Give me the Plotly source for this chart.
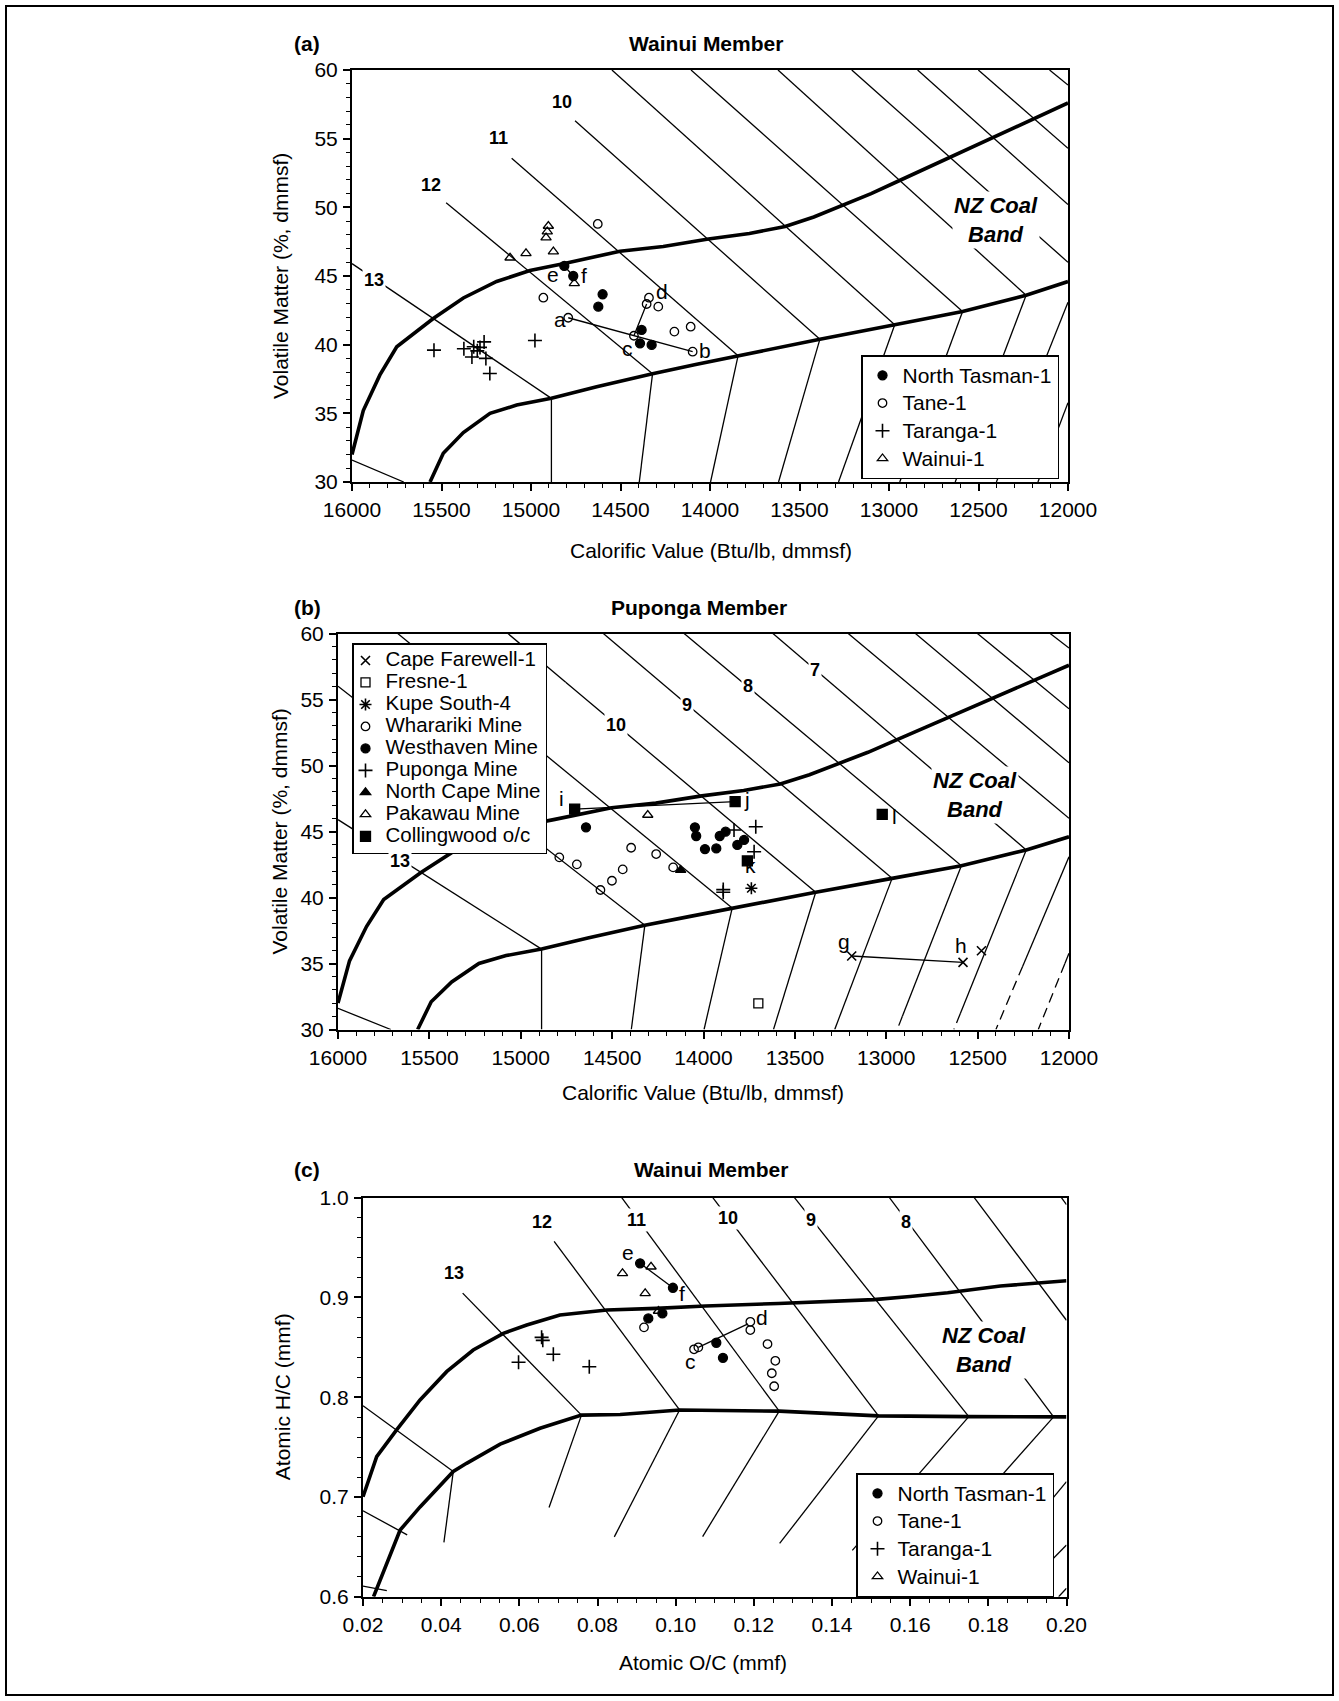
import plotly.graph_objects as go

W, H = 1339, 1701
FONT = "Liberation Sans, Arial, Helvetica, sans-serif"

# ---------------- panel (a): Wainui Member, calorific value vs volatile matter
a_tasman_cv = [14814, 14764, 14600, 14624, 14382, 14391, 14326]
a_tasman_vm = [45.73, 45.00, 43.67, 42.77, 41.07, 40.10, 39.98]
a_tane_cv = [14627, 14931, 14792, 14425, 14097, 14341, 14354, 14289, 14199, 14108]
a_tane_vm = [48.79, 43.42, 41.96, 40.65, 39.49, 43.42, 42.96, 42.77, 40.95, 41.31]
a_taranga_cv = [15542, 15375, 15320, 15300, 15330, 15285, 15262, 15252, 15230, 14978]
a_taranga_vm = [39.6, 39.7, 39.85, 39.55, 39.1, 39.8, 40.2, 39.0, 37.9, 40.3]
a_wainui_cv = [15117, 15028, 14903, 14909, 14916, 14875, 14758]
a_wainui_vm = [46.33, 46.65, 48.64, 48.23, 47.79, 46.77, 44.47]

# tie lines between paired analyses (a-b, c-d, e-f)
a_tie_cv0 = [14792, 14425, 14814]
a_tie_vm0 = [41.96, 40.65, 45.73]
a_tie_cv1 = [14097, 14354, 14764]
a_tie_vm1 = [39.49, 42.96, 45.00]
a_letters = ["a", "b", "c", "d", "e", "f"]
a_letter_cv = [14838, 14028, 14460, 14270, 14875, 14704]
a_letter_vm = [41.8, 39.54, 39.73, 43.86, 45.12, 45.07]
a_rank_text = ["10", "11", "12", "13"]
a_rank_cv = [14828, 15179, 15559, 15877]
a_rank_vm = [57.65, 55.05, 51.66, 44.71]

# ---------------- panel (b): Puponga Member
b_cape_cv = [13189, 12580, 12479]
b_cape_vm = [35.57, 35.09, 35.97]
b_fresne_cv = [13700]
b_fresne_vm = [31.98]
b_kupe_cv = [13738]
b_kupe_vm = [40.7]
b_wharariki_cv = [14789, 14693, 14564, 14501, 14442, 14396, 14259, 14166]
b_wharariki_vm = [43.04, 42.51, 40.57, 41.27, 42.13, 43.77, 43.29, 42.28]
b_westhaven_cv = [14643, 14047, 14040, 13992, 13930, 13911, 13879, 13815, 13778]
b_westhaven_vm = [45.32, 45.32, 44.66, 43.67, 43.72, 44.66, 44.99, 43.98, 44.36]
b_puponga_cv = [13833, 13714, 13723, 13892, 13892]
b_puponga_vm = [45.11, 45.36, 43.47, 40.6, 40.4]
b_northcape_cv = [14125]
b_northcape_vm = [42.08]
b_pakawau_cv = [14305]
b_pakawau_vm = [46.25]
b_colling_cv = [14705, 13827, 13760, 13022]
b_colling_vm = [46.70, 47.26, 42.77, 46.29]

b_tie_cv0 = [14705, 13189]
b_tie_vm0 = [46.70, 35.57]
b_tie_cv1 = [13827, 12580]
b_tie_vm1 = [47.26, 35.09]
b_letters = ["i", "j", "k", "l", "g", "h"]
b_letter_cv = [14775, 13760, 13745, 12956, 13233, 12589]
b_letter_vm = [47.51, 47.39, 42.4, 46.1, 36.66, 36.33]
b_rank_text = ["13", "10", "9", "8", "7"]
b_rank_cv = [15663, 14478, 14090, 13757, 13388]
b_rank_vm = [42.8, 53.08, 54.56, 56.04, 57.27]

# ---------------- NZ coal band and iso-rank grid shared by (a) and (b)
ab_band_top_cv = [16000, 15937, 15844, 15750, 15546, 15378, 15192, 15006, 14820, 14503,
                  14261, 14009, 13780, 13580, 13420, 13267, 13100, 12950, 12800, 12640,
                  12480, 12324, 12160, 12000]
ab_band_top_vm = [32.0, 35.2, 37.8, 39.85, 41.9, 43.4, 44.6, 45.4, 45.9, 46.8,
                  47.15, 47.7, 48.1, 48.6, 49.3, 50.1, 51.0, 51.9, 52.8, 53.75,
                  54.7, 55.7, 56.65, 57.6]
ab_band_base_cv = [15564, 15490, 15378, 15229, 15080, 14886, 14633, 14321, 14080, 13843,
                   13600, 13386, 12968, 12589, 12234, 12000]
ab_band_base_vm = [30.0, 32.1, 33.6, 35.0, 35.6, 36.09, 36.94, 37.89, 38.55, 39.2,
                   39.85, 40.4, 41.45, 42.41, 43.6, 44.6]

# upper part of each iso-rank line (ranks 14 ... 3)
ab_iso_cv0 = [16000, 16000, 15474, 15108, 14754, 14548, 14106, 13620, 13208, 12840, 12501, 12103]
ab_iso_vm0 = [31.6, 45.9, 50.33, 53.57, 56.3, 60, 60, 60, 60, 60, 60, 60]
ab_iso_cv1 = [15711, 14886, 14321, 13843, 13386, 12968, 12589, 12234, 12000, 12000, 12000, 12000]
ab_iso_vm1 = [30.0, 36.09, 37.89, 39.2, 40.4, 41.45, 42.41, 43.6, 46.0, 50.2, 54.3, 58.9]
# part below the band (ranks 13 ... 5)
ab_foot_cv0 = [14886, 14321, 13843, 13386, 12968, 12589, 12234, 12000, 12000]
ab_foot_vm0 = [36.09, 37.89, 39.2, 40.4, 41.45, 42.41, 43.6, 43.09, 35.77]
ab_foot_cv1 = [14886, 14395, 13997, 13617, 13282, 12940, 12630, 12400, 12168]
ab_foot_vm1 = [30, 30, 30, 30, 30, 30, 30, 30, 30]
# in (b) the last stretch of the right-hand feet is dashed below these values
b_foot_dash_vm = [None, None, None, None, None, 31.0, 31.2, 34.8, 35.0]
# in (b) ranks 10-12 carry on to the top, behind the key
b_iso_top_cv = [15070, 15673, 16000]
b_iso_top_vm = [60, 60, 56.0]
b_iso_top_join = [4, 3, 2]

# ---------------- panel (c): Wainui Member, atomic O/C vs H/C
c_tasman_oc = [0.0909, 0.0993, 0.0930, 0.0966, 0.1104, 0.1121]
c_tasman_hc = [0.9342, 0.9097, 0.879, 0.884, 0.8546, 0.8395]
c_tane_oc = [0.0919, 0.1047, 0.1058, 0.1191, 0.1191, 0.1235, 0.1255, 0.1246, 0.1252]
c_tane_hc = [0.870, 0.848, 0.850, 0.8756, 0.8673, 0.8533, 0.8365, 0.824, 0.811]
c_taranga_oc = [0.0657, 0.0660, 0.0687, 0.0598, 0.0779]
c_taranga_hc = [0.860, 0.857, 0.843, 0.835, 0.8305]
c_wainui_oc = [0.0864, 0.0937, 0.0922, 0.0956]
c_wainui_hc = [0.9242, 0.9308, 0.9041, 0.8864]

c_tie_oc0 = [0.0909, 0.1058]
c_tie_hc0 = [0.9342, 0.850]
c_tie_oc1 = [0.0993, 0.1185]
c_tie_hc1 = [0.9097, 0.8735]
c_letters = ["e", "f", "c", "d"]
c_letter_oc = [0.0878, 0.1016, 0.1037, 0.1220]
c_letter_hc = [0.9448, 0.904, 0.8362, 0.880]
c_rank_text = ["13", "12", "11", "10", "9", "8"]
c_rank_oc = [0.0434, 0.0658, 0.0899, 0.1135, 0.1345, 0.1590]
c_rank_hc = [0.9245, 0.9759, 0.978, 0.9793, 0.978, 0.9759]

c_band_top_oc = [0.02, 0.0235, 0.0286, 0.0346, 0.0414, 0.0482, 0.0559, 0.0619, 0.0704, 0.0824,
                 0.0950, 0.1076, 0.1263, 0.1400, 0.1507, 0.1600, 0.1696, 0.1831, 0.20]
c_band_top_hc = [0.7002, 0.7404, 0.7672, 0.7972, 0.8256, 0.8473, 0.864, 0.8724, 0.8824, 0.8874,
                 0.889, 0.8914, 0.894, 0.896, 0.8978, 0.901, 0.9047, 0.9115, 0.9167]
c_band_base_oc = [0.0227, 0.0261, 0.0295, 0.0346, 0.0431, 0.0465, 0.0551, 0.0653, 0.0759, 0.0858,
                  0.1010, 0.1265, 0.1400, 0.1519, 0.1750, 0.1967, 0.20]
c_band_base_hc = [0.60, 0.6334, 0.6668, 0.690, 0.7255, 0.7337, 0.753, 0.7688, 0.782, 0.7827,
                  0.7872, 0.786, 0.7835, 0.7813, 0.7805, 0.7803, 0.7803]
c_iso_oc0 = [0.02, 0.02, 0.02, 0.0455, 0.0689, 0.0862, 0.1095, 0.1304, 0.1547, 0.1764, 0.1987]
c_iso_hc0 = [0.6107, 0.6862, 0.7915, 0.9043, 0.9563, 1.0, 1.0, 1.0, 1.0, 1.0, 1.0]
c_iso_oc1 = [0.0261, 0.0313, 0.0431, 0.0759, 0.1010, 0.1265, 0.1519, 0.1750, 0.1967, 0.20, 0.20]
c_iso_hc1 = [0.606, 0.662, 0.7255, 0.782, 0.7872, 0.786, 0.7813, 0.7805, 0.7803, 0.8771, 0.993]
c_foot_oc0 = [0.0431, 0.0759, 0.1010, 0.1265, 0.1519, 0.1750, 0.1967, 0.20, 0.20, 0.20]
c_foot_hc0 = [0.7255, 0.782, 0.7872, 0.786, 0.7813, 0.7805, 0.7803, 0.7153, 0.6518, 0.6085]
c_foot_oc1 = [0.0407, 0.0676, 0.0843, 0.1069, 0.1266, 0.1452, 0.165, 0.182, 0.187, 0.198]
c_foot_hc1 = [0.6545, 0.6895, 0.660, 0.6603, 0.6534, 0.6465, 0.64, 0.63, 0.60, 0.60]

# plot-area pixel boxes (left, right, top, bottom) of the three panels
box_a = (352, 1068, 70, 482)
box_b = (338, 1069, 633.5, 1029.5)
box_c = (363, 1066.5, 1197.7, 1596.7)


def segs(x0, y0, x1, y1):
    xs, ys = [], []
    for p, q, r, s in zip(x0, y0, x1, y1):
        xs += [p, r, None]
        ys += [q, s, None]
    return xs, ys


fig = go.Figure()


def lines(xs, ys, xa, ya, width=1.3, dash="solid"):
    fig.add_trace(go.Scatter(x=xs, y=ys, xaxis=xa, yaxis=ya, mode="lines",
                             line=dict(color="black", width=width, dash=dash),
                             showlegend=False, hoverinfo="skip"))


def points(xs, ys, xa, ya, name, symbol, legend, size=9, lw=1.3, px=21):
    # key text is sized through a span so that the row pitch can follow the key font
    label = '<span style="font-size:%spx">%s</span>' % (px, name)
    fig.add_trace(go.Scatter(x=xs, y=ys, xaxis=xa, yaxis=ya, mode="markers", name=label,
                             legend=legend,
                             marker=dict(symbol=symbol, size=size, color="black",
                                         line=dict(color="black", width=lw))))


# grid for (a) and (b)
for xa, ya in [("x", "y"), ("x2", "y2")]:
    xs, ys = segs(ab_iso_cv0, ab_iso_vm0, ab_iso_cv1, ab_iso_vm1)
    lines(xs, ys, xa, ya)
    lines(ab_band_top_cv, ab_band_top_vm, xa, ya, width=3.6)
    lines(ab_band_base_cv, ab_band_base_vm, xa, ya, width=3.6)

xs, ys = segs(ab_foot_cv0, ab_foot_vm0, ab_foot_cv1, ab_foot_vm1)
lines(xs, ys, "x", "y")

# (b): solid feet, dashed tails
sx0, sy0, sx1, sy1, dx0, dy0, dx1, dy1 = [], [], [], [], [], [], [], []
for p, q, r, s, d in zip(ab_foot_cv0, ab_foot_vm0, ab_foot_cv1, ab_foot_vm1, b_foot_dash_vm):
    if d is None:
        sx0.append(p); sy0.append(q); sx1.append(r); sy1.append(s)
    else:
        m = p + (r - p) * (q - d) / (q - s)
        sx0.append(p); sy0.append(q); sx1.append(m); sy1.append(d)
        dx0.append(m); dy0.append(d); dx1.append(r); dy1.append(s)
xs, ys = segs(sx0, sy0, sx1, sy1)
lines(xs, ys, "x2", "y2")
xs, ys = segs(dx0, dy0, dx1, dy1)
lines(xs, ys, "x2", "y2", dash="10px,6px")
xs, ys = segs(b_iso_top_cv, b_iso_top_vm,
              [ab_iso_cv0[i] for i in b_iso_top_join], [ab_iso_vm0[i] for i in b_iso_top_join])
lines(xs, ys, "x2", "y2")

# grid for (c)
xs, ys = segs(c_iso_oc0, c_iso_hc0, c_iso_oc1, c_iso_hc1)
lines(xs, ys, "x3", "y3")
xs, ys = segs(c_foot_oc0, c_foot_hc0, c_foot_oc1, c_foot_hc1)
lines(xs, ys, "x3", "y3")
lines(c_band_top_oc, c_band_top_hc, "x3", "y3", width=3.6)
lines(c_band_base_oc, c_band_base_hc, "x3", "y3", width=3.6)

# tie lines
xs, ys = segs(a_tie_cv0, a_tie_vm0, a_tie_cv1, a_tie_vm1)
lines(xs, ys, "x", "y")
xs, ys = segs(b_tie_cv0, b_tie_vm0, b_tie_cv1, b_tie_vm1)
lines(xs, ys, "x2", "y2")
xs, ys = segs(c_tie_oc0, c_tie_hc0, c_tie_oc1, c_tie_hc1)
lines(xs, ys, "x3", "y3")

# samples
points(a_tasman_cv, a_tasman_vm, "x", "y", "North Tasman-1", "circle", "legend")
points(a_tane_cv, a_tane_vm, "x", "y", "Tane-1", "circle-open", "legend", size=8.5)
points(a_taranga_cv, a_taranga_vm, "x", "y", "Taranga-1", "cross-thin-open", "legend", size=10, lw=1.6)
points(a_wainui_cv, a_wainui_vm, "x", "y", "Wainui-1", "triangle-up-open", "legend", size=9)

BK = 20.5
points(b_cape_cv, b_cape_vm, "x2", "y2", "Cape Farewell-1", "x-thin-open", "legend2", size=9, lw=1.6, px=BK)
points(b_fresne_cv, b_fresne_vm, "x2", "y2", "Fresne-1", "square-open", "legend2", size=9, px=BK)
points(b_kupe_cv, b_kupe_vm, "x2", "y2", "Kupe South-4", "asterisk-open", "legend2", size=10, lw=1.6, px=BK)
points(b_wharariki_cv, b_wharariki_vm, "x2", "y2", "Wharariki Mine", "circle-open", "legend2", size=8.5, px=BK)
points(b_westhaven_cv, b_westhaven_vm, "x2", "y2", "Westhaven Mine", "circle", "legend2", px=BK)
points(b_puponga_cv, b_puponga_vm, "x2", "y2", "Puponga Mine", "cross-thin-open", "legend2", size=10, lw=1.6, px=BK)
points(b_northcape_cv, b_northcape_vm, "x2", "y2", "North Cape Mine", "triangle-up", "legend2", px=BK)
points(b_pakawau_cv, b_pakawau_vm, "x2", "y2", "Pakawau Mine", "triangle-up-open", "legend2", px=BK)
points(b_colling_cv, b_colling_vm, "x2", "y2", "Collingwood o/c", "square", "legend2", size=10, px=BK)

points(c_tasman_oc, c_tasman_hc, "x3", "y3", "North Tasman-1", "circle", "legend3")
points(c_tane_oc, c_tane_hc, "x3", "y3", "Tane-1", "circle-open", "legend3", size=8.5)
points(c_taranga_oc, c_taranga_hc, "x3", "y3", "Taranga-1", "cross-thin-open", "legend3", size=10, lw=1.6)
points(c_wainui_oc, c_wainui_hc, "x3", "y3", "Wainui-1", "triangle-up-open", "legend3")

ann = []


def text(x, y, s, xref, yref, size=21, bold=False, italic=False, bg=None, **kw):
    if bold:
        s = "<b>" + s + "</b>"
    if italic:
        s = "<i>" + s + "</i>"
    d = dict(x=x, y=y, text=s, xref=xref, yref=yref, showarrow=False,
             xanchor="center", yanchor="middle",
             font=dict(family=FONT, size=size, color="black"))
    if bg:
        d.update(bgcolor=bg, borderpad=1)
    d.update(kw)
    ann.append(d)


for s, x, y in zip(a_letters, a_letter_cv, a_letter_vm):
    text(x, y, s, "x", "y")
for s, x, y in zip(b_letters, b_letter_cv, b_letter_vm):
    text(x, y, s, "x2", "y2")
for s, x, y in zip(c_letters, c_letter_oc, c_letter_hc):
    text(x, y, s, "x3", "y3")
for s, x, y in zip(a_rank_text, a_rank_cv, a_rank_vm):
    text(x, y, s, "x", "y", size=18, bold=True, bg="white")
for s, x, y in zip(b_rank_text, b_rank_cv, b_rank_vm):
    text(x, y, s, "x2", "y2", size=18, bold=True, bg="white")
for s, x, y in zip(c_rank_text, c_rank_oc, c_rank_hc):
    text(x, y, s, "x3", "y3", size=18, bold=True, bg="white")

text(12405, 49.05, "NZ Coal<br>Band", "x", "y", size=22, bold=True, italic=True, bg="white")
text(12515, 47.8, "NZ Coal<br>Band", "x2", "y2", size=22, bold=True, italic=True, bg="white")
text(0.1790, 0.847, "NZ Coal<br>Band", "x3", "y3", size=22, bold=True, italic=True, bg="white")


def paper(px, py):
    return px / W, 1 - py / H


for tag, title, py, box in [("(a)", "Wainui Member", 43.4, box_a),
                            ("(b)", "Puponga Member", 607.6, box_b),
                            ("(c)", "Wainui Member", 1169.7, box_c)]:
    x, y = paper(307, py)
    text(x, y, tag, "paper", "paper", bold=True)
    x, y = paper((box[0] + box[1]) / 2 - 4, py)
    text(x, y, title, "paper", "paper", bold=True)

for lab, px, py in [("Calorific Value (Btu/lb, dmmsf)", 711, 550),
                    ("Calorific Value (Btu/lb, dmmsf)", 703, 1092.7),
                    ("Atomic O/C (mmf)", 703, 1662)]:
    x, y = paper(px, py)
    text(x, y, lab, "paper", "paper")

for lab, px, py in [("Volatile Matter (%, dmmsf)", 280, 276),
                    ("Volatile Matter (%, dmmsf)", 279, 831.5),
                    ("Atomic H/C (mmf)", 282, 1397.2)]:
    x, y = paper(px, py)
    text(x, y, lab, "paper", "paper", textangle=-90)


def axis(box, horizontal, rng, dtick, minor, fmt, anchor):
    if horizontal:
        dom = [box[0] / W, box[1] / W]
    else:
        dom = [1 - box[3] / H, 1 - box[2] / H]
    return dict(domain=dom, range=rng, dtick=dtick, tick0=rng[0], anchor=anchor,
                tickformat=fmt, automargin=False,
                showline=True, linewidth=2, linecolor="black", mirror=True,
                ticks="outside", ticklen=7, tickwidth=1.5, tickcolor="black",
                showgrid=False, zeroline=False, ticklabelstandoff=1,
                tickfont=dict(family=FONT, size=21, color="black"),
                minor=dict(dtick=minor, ticks="outside", ticklen=4, tickwidth=1.2,
                           tickcolor="black", showgrid=False))


def key(px, py, size, indent=0):
    x, y = paper(px, py)
    return dict(x=x, y=y, xanchor="left", yanchor="top", bgcolor="white",
                bordercolor="black", borderwidth=1.5, tracegroupgap=0, itemwidth=30,
                indentation=indent,
                font=dict(family=FONT, size=size, color="black"))


fig.update_layout(
    width=W, height=H,
    margin=dict(l=0, r=0, t=0, b=0, pad=0, autoexpand=False),
    paper_bgcolor="white", plot_bgcolor="white",
    font=dict(family=FONT, color="black"),
    xaxis=axis(box_a, True, [16000, 12000], 500, 100, "d", "y"),
    yaxis=axis(box_a, False, [30, 60], 5, 1, "d", "x"),
    xaxis2=axis(box_b, True, [16000, 12000], 500, 100, "d", "y2"),
    yaxis2=axis(box_b, False, [30, 60], 5, 1, "d", "x2"),
    xaxis3=axis(box_c, True, [0.02, 0.20], 0.02, 0.005, ".2f", "y3"),
    yaxis3=axis(box_c, False, [0.6, 1.0], 0.1, 0.02, ".1f", "x3"),
    legend=key(861, 355, 19),
    legend2=key(352, 643, 14.6, indent=-8),
    legend3=key(856, 1473, 19),
    annotations=ann,
    shapes=[dict(type="rect", xref="paper", yref="paper",
                 x0=6 / W, x1=1333 / W, y0=1 - 1695 / H, y1=1 - 6 / H,
                 line=dict(color="black", width=2))],
)

# the page's default body margin would push the figure off the window edge
fig.write_html("out.html", config={"displayModeBar": False},
               post_script="document.body.style.margin='0';"
                           "document.body.style.overflow='hidden';")
